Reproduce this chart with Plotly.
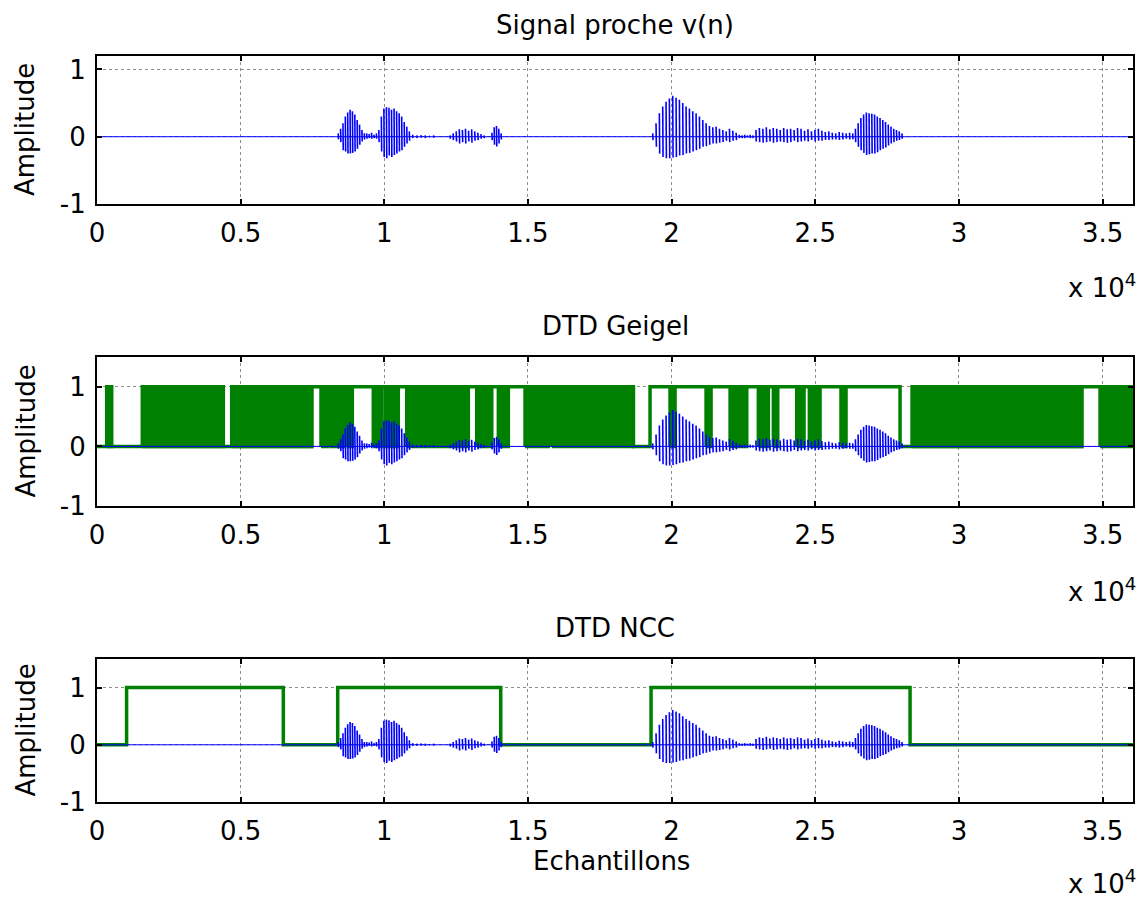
import plotly.graph_objects as go

# ---------------------------------------------------------------------------
# Data
# ---------------------------------------------------------------------------
N_SAMPLES = 36060

# Near-end speech v(n): each burst is (first sample, last sample) and the
# successive peak pairs (max, min) of its pitch periods.
burst_bounds = [
    (8360, 9350), (9350, 9770), (9770, 10920), (10920, 11790),
    (12240, 13530), (13710, 14110),
    (19290, 22310), (22310, 22880), (22880, 26260), (26260, 28070),
]
burst_peaks = [
    [0.05, -0.04, 0.12, -0.08, 0.20, -0.20, 0.30, -0.22, 0.36, -0.25, 0.40, -0.25,
     0.38, -0.24, 0.33, -0.22, 0.25, -0.18, 0.18, -0.12, 0.10, -0.07, 0.05, -0.04],
    [0.05, -0.03, 0.04, -0.02, 0.06, -0.03, 0.03, -0.02, 0.05, -0.03],
    [0.10, -0.08, 0.30, -0.22, 0.42, -0.30, 0.44, -0.32, 0.43, -0.28, 0.40, -0.30,
     0.42, -0.27, 0.38, -0.25, 0.35, -0.22, 0.30, -0.20, 0.22, -0.15, 0.15, -0.10,
     0.08, -0.06],
    [0.03, -0.02, 0.02, -0.02, 0.025, -0.015, 0.02, -0.02, 0.015, -0.01, 0.02, -0.015],
    [0.02, -0.03, 0.05, -0.05, 0.08, -0.07, 0.11, -0.10, 0.10, -0.08, 0.12, -0.10,
     0.09, -0.07, 0.11, -0.09, 0.08, -0.06, 0.06, -0.05, 0.04, -0.03, 0.02, -0.02],
    [0.06, -0.05, 0.14, -0.12, 0.16, -0.145, 0.12, -0.10, 0.05, -0.04],
    [0.05, -0.05, 0.20, -0.15, 0.35, -0.25, 0.45, -0.30, 0.52, -0.32, 0.57, -0.32,
     0.61, -0.31, 0.58, -0.30, 0.55, -0.28, 0.50, -0.27, 0.45, -0.25, 0.42, -0.24,
     0.38, -0.22, 0.35, -0.20, 0.30, -0.18, 0.25, -0.15, 0.20, -0.14, 0.16, -0.12,
     0.14, -0.10, 0.15, -0.10, 0.12, -0.09, 0.10, -0.08, 0.08, -0.06, 0.12, -0.08,
     0.09, -0.06, 0.06, -0.05],
    [0.03, -0.02, 0.02, -0.02, 0.03, -0.02, 0.02, -0.015, 0.03, -0.02, 0.02, -0.02],
    [0.10, -0.07, 0.13, -0.08, 0.12, -0.09, 0.14, -0.08, 0.11, -0.07, 0.13, -0.09,
     0.12, -0.08, 0.10, -0.07, 0.13, -0.08, 0.11, -0.09, 0.12, -0.08, 0.10, -0.06,
     0.13, -0.08, 0.12, -0.07, 0.09, -0.06, 0.11, -0.07, 0.08, -0.05, 0.10, -0.07,
     0.12, -0.06, 0.09, -0.06, 0.07, -0.05, 0.08, -0.05, 0.06, -0.04, 0.05, -0.04,
     0.07, -0.05, 0.06, -0.04, 0.05, -0.03, 0.06, -0.04],
    [0.05, -0.04, 0.12, -0.08, 0.20, -0.15, 0.28, -0.20, 0.33, -0.24, 0.36, -0.27,
     0.35, -0.26, 0.34, -0.25, 0.33, -0.25, 0.30, -0.23, 0.28, -0.20, 0.25, -0.18,
     0.22, -0.16, 0.18, -0.13, 0.15, -0.10, 0.12, -0.08, 0.10, -0.06, 0.08, -0.05,
     0.05, -0.03],
]

# Geigel detector: base decision level between change samples ...
geigel_change_samples = [0, 7474, 18669, 19250, 27952, 34277, N_SAMPLES]
geigel_levels = [0, 1, 0, 1, 0, 1, 1]
# ... and stretches where the decision chatters between 0 and 1
geigel_chatter = [
    (338, 512),
    (1577, 4397), (4689, 7474), (7797, 8017), (8087, 8574), (8692, 8887),
    (9618, 9910), (10025, 10258), (10314, 10488), (10781, 12925),
    (13218, 13740), (13970, 14318), (14899, 15710), (15828, 18669),
    (19946, 20120), (21200, 21374), (22036, 22210), (22268, 22616),
    (23020, 23368), (23542, 23695), (24356, 24610), (24795, 25167),
    (25897, 26071), (28370, 34277), (34914, N_SAMPLES),
]

# NCC detector decision
ncc_change_samples = [0, 1030, 6485, 8378, 14053, 19285, 28300, N_SAMPLES]
ncc_levels = [0, 1, 0, 1, 0, 1, 0, 0]

x_tick_vals = [0, 5000, 10000, 15000, 20000, 25000, 30000, 35000]
x_tick_text = ["0", "0.5", "1", "1.5", "2", "2.5", "3", "3.5"]
y_tick_vals = [-1, 0, 1]
y_tick_text = ["-1", "0", "1"]

panel_titles = ["Signal proche v(n)", "DTD Geigel", "DTD NCC"]

# ---------------------------------------------------------------------------
# Geometry (pixels of the 1140 x 901 page)
# ---------------------------------------------------------------------------
W, H = 1140, 901
FONT = "DejaVu Sans"
BLUE = "rgb(0,0,255)"
GREEN = "rgb(0,128,0)"

plot_left, plot_right = 97, 1133
panels_px = [(56, 204), (357, 506), (659, 802)]  # (top, bottom)
y_ranges = [[-1, 1.2], [-1, 1.5], [-1, 1.5]]


def py(px):
    return 1 - px / H


def pxx(px):
    return px / W


# ---------------------------------------------------------------------------
# Build traces
# ---------------------------------------------------------------------------
def signal_strokes():
    xs, ys = [], []
    for (a, b), peaks in zip(burst_bounds, burst_peaks):
        n = len(peaks) // 2
        step = (b - a) / n
        for k in range(n):
            xc = a + (k + 0.5) * step
            top, bot = peaks[2 * k], peaks[2 * k + 1]
            xs += [xc - 6, xc + 6, None]
            ys += [top, bot, None]
    return xs, ys


def step_line(changes, levels):
    xs, ys = [], []
    for i in range(len(changes) - 1):
        xs += [changes[i], changes[i + 1]]
        ys += [levels[i], levels[i]]
    return xs, ys


def chatter_polys(intervals):
    xs, ys = [], []
    for a, b in intervals:
        xs += [a, a, b, b, a, None]
        ys += [0, 1, 1, 0, 0, None]
    return xs, ys


sx, sy = signal_strokes()
fig = go.Figure()

for i in range(3):
    ax = "" if i == 0 else str(i + 1)
    xref, yref = "x" + ax, "y" + ax

    if i == 1:
        gx, gy = chatter_polys(geigel_chatter)
        fig.add_trace(go.Scatter(x=gx, y=gy, mode="lines", fill="toself",
                                 fillcolor=GREEN, line=dict(color=GREEN, width=3.5),
                                 xaxis=xref, yaxis=yref, hoverinfo="skip"))
        lx, ly = step_line(geigel_change_samples, geigel_levels)
        fig.add_trace(go.Scatter(x=lx, y=ly, mode="lines",
                                 line=dict(color=GREEN, width=3.5),
                                 xaxis=xref, yaxis=yref))
    if i == 2:
        lx, ly = step_line(ncc_change_samples, ncc_levels)
        fig.add_trace(go.Scatter(x=lx, y=ly, mode="lines",
                                 line=dict(color=GREEN, width=3.5),
                                 xaxis=xref, yaxis=yref))

    # signal: zero baseline plus one vertical stroke per pitch period
    fig.add_trace(go.Scatter(x=[0, N_SAMPLES], y=[0, 0], mode="lines",
                             line=dict(color=BLUE, width=1),
                             xaxis=xref, yaxis=yref))
    fig.add_trace(go.Scatter(x=sx, y=sy, mode="lines",
                             line=dict(color=BLUE, width=1.6),
                             xaxis=xref, yaxis=yref))

    top, bot = panels_px[i]
    axis_common = dict(
        showline=True, linecolor="black", linewidth=2, mirror="ticks",
        ticks="inside", ticklen=5, tickwidth=1.5, tickcolor="black",
        showgrid=True, gridcolor="rgb(140,140,140)", griddash="dot", gridwidth=1,
        zeroline=False, automargin=False,
        tickfont=dict(family=FONT, size=26, color="black"),
    )
    fig.update_layout(**{
        "xaxis" + ax: dict(
            axis_common, domain=[pxx(plot_left), pxx(plot_right)],
            range=[0, N_SAMPLES], tickvals=x_tick_vals, ticktext=x_tick_text,
            anchor=yref, ticklabelstandoff=5,
        ),
        "yaxis" + ax: dict(
            axis_common, domain=[py(bot), py(top)], range=y_ranges[i],
            tickvals=y_tick_vals, ticktext=y_tick_text, anchor=xref,
            ticklabelstandoff=4,
        ),
    })

    # panel title, y label and exponent
    fig.add_annotation(text=panel_titles[i], x=pxx(615), y=py(top - 31),
                       xref="paper", yref="paper", showarrow=False,
                       xanchor="center", yanchor="middle",
                       font=dict(family=FONT, size=26, color="black"))
    fig.add_annotation(text="Amplitude", x=pxx(25), y=py((top + bot) / 2),
                       xref="paper", yref="paper", showarrow=False, textangle=-90,
                       xanchor="center", yanchor="middle",
                       font=dict(family=FONT, size=26, color="black"))
    exp_y = [286, 590, 882][i]
    fig.add_annotation(text="x 10<sup>4</sup>", x=pxx(1138), y=py(exp_y),
                       xref="paper", yref="paper", showarrow=False,
                       xanchor="right", yanchor="middle",
                       font=dict(family=FONT, size=26, color="black"))

fig.add_annotation(text="Echantillons", x=pxx(611), y=py(861),
                   xref="paper", yref="paper", showarrow=False,
                   xanchor="center", yanchor="middle",
                   font=dict(family=FONT, size=26, color="black"))

fig.update_layout(
    template="none",
    width=W, height=H, margin=dict(l=0, r=0, t=0, b=0),
    paper_bgcolor="white", plot_bgcolor="white", showlegend=False,
)

fig.write_html("out.html")
